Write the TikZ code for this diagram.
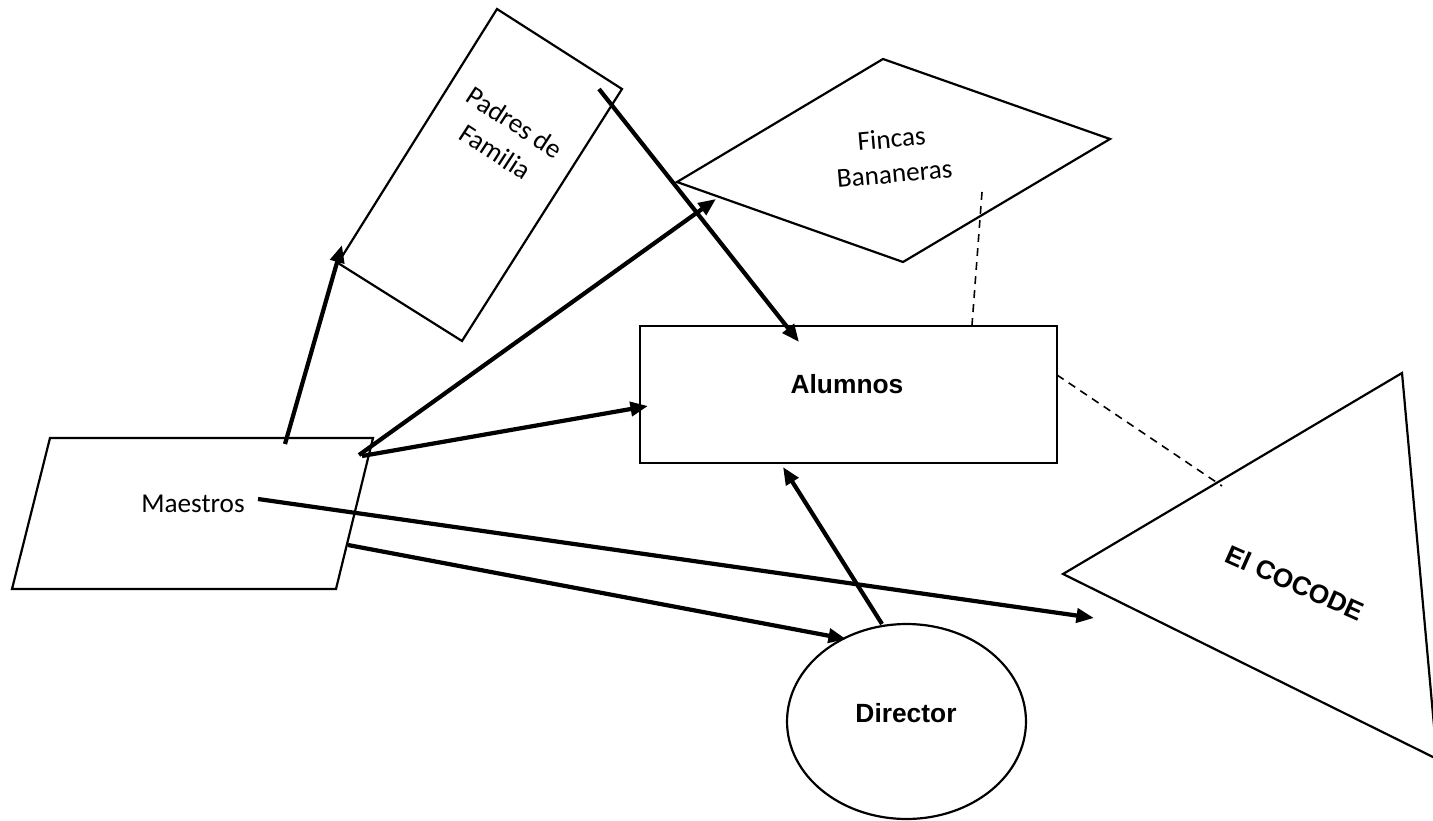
\documentclass[tikz,border=0pt]{standalone}
\usepackage{fontspec}
\setmainfont{Carlito}
\newfontfamily\arialfont{Liberation Sans}
\usetikzlibrary{arrows.meta,shapes.geometric}

\tikzset{
  outline/.style={draw, line width=1.25pt, line join=miter},
  flow/.style={draw, line width=2.4pt, -{Triangle[length=10pt,width=8pt]}},
  link/.style={draw, line width=0.9pt, dash pattern=on 4.5pt off 3.5pt},
  plaintext/.style={font=\fontsize{15.5}{20}\selectfont, align=center, inner sep=0pt},
  boldtext/.style={font=\arialfont\bfseries\fontsize{15}{18}\selectfont, inner sep=0pt}
}

\begin{document}
\begin{tikzpicture}[x=0.02cm, y=-0.02cm]

        \clip (0,0) rectangle (1433,821);
        \fill[white] (0,0) rectangle (1433,821);

        % corners of the drawn shapes
        \coordinate (pf-n) at (497,9);
        \coordinate (pf-e) at (622,89);
        \coordinate (pf-s) at (462,341);
        \coordinate (pf-w) at (338,263);

        \coordinate (fb-w) at (677,182);
        \coordinate (fb-n) at (883,59);
        \coordinate (fb-e) at (1110,139);
        \coordinate (fb-s) at (903,262);

        \coordinate (ma-nw) at (50,438);
        \coordinate (ma-ne) at (373,438);
        \coordinate (ma-se) at (336,589);
        \coordinate (ma-sw) at (12,589);

        \coordinate (cc-n) at (1402,373);
        \coordinate (cc-w) at (1063,574);
        \coordinate (cc-s) at (1437,759);

        \draw[outline] (pf-n) -- (pf-e) -- (pf-s) -- (pf-w) -- cycle;
        \draw[outline] (fb-w) -- (fb-n) -- (fb-e) -- (fb-s) -- cycle;
        \draw[outline] (ma-nw) -- (ma-ne) -- (ma-se) -- (ma-sw) -- cycle;
        \draw[outline] (cc-n) -- (cc-w) -- (cc-s) -- cycle;

        \begin{scope}[every node/.style={outline}]
          \node (alumnos) [minimum width=8.34cm, minimum height=2.74cm] at (848.5,394.5) {};
          \node (director) [ellipse, minimum width=4.78cm, minimum height=3.9cm] at (906.5,721.5) {};
        \end{scope}

        % texts
        \node (padres-t) [plaintext, rotate=-33] at (505,137) {Padres de\\Familia};
        \node (fincas-t) [plaintext, rotate=5] at (893,156) {Fincas\\Bananeras};
        \node (maestros-t) [plaintext] at (193,504) {Maestros};
        \node (alumnos-t) [boldtext] at (847,384) {Alumnos};
        \node (director-t) [boldtext] at (906,713) {Director};
        \node (cocode-t) [boldtext, rotate=-24] at (1295,583) {El COCODE};

        % ends of the connectors
        \coordinate (ma-a) at (285,444);
        \coordinate (ma-b) at (359,455);
        \coordinate (ma-c) at (362,456);
        \coordinate (ma-d) at (258,499);
        \coordinate (ma-e) at (348,545);
        \coordinate (pf-a) at (342,245);
        \coordinate (pf-b) at (599,89);
        \coordinate (fb-a) at (716,199);
        \coordinate (fb-b) at (982,192);
        \coordinate (al-a) at (799,342);
        \coordinate (al-b) at (648,406);
        \coordinate (al-c) at (783,467);
        \coordinate (al-d) at (972,325);
        \coordinate (al-e) at (1057,375);
        \coordinate (cc-a) at (1094,618);
        \coordinate (cc-b) at (1222,486);
        \coordinate (di-a) at (846,639);
        \coordinate (di-b) at (882,624);

        \begin{scope}[every edge/.style={flow}]
          \path (ma-a) edge (pf-a);
          \path (pf-b) edge (al-a);
          \path (ma-b) edge (fb-a);
          \path (ma-c) edge (al-b);
          \path (ma-d) edge (cc-a);
          \path (ma-e) edge (di-a);
          \path (di-b) edge (al-c);
        \end{scope}

        \begin{scope}[every edge/.style={link}]
          \path (fb-b) edge (al-d);
          \path (al-e) edge (cc-b);
        \end{scope}

      \end{tikzpicture}
\end{document}
